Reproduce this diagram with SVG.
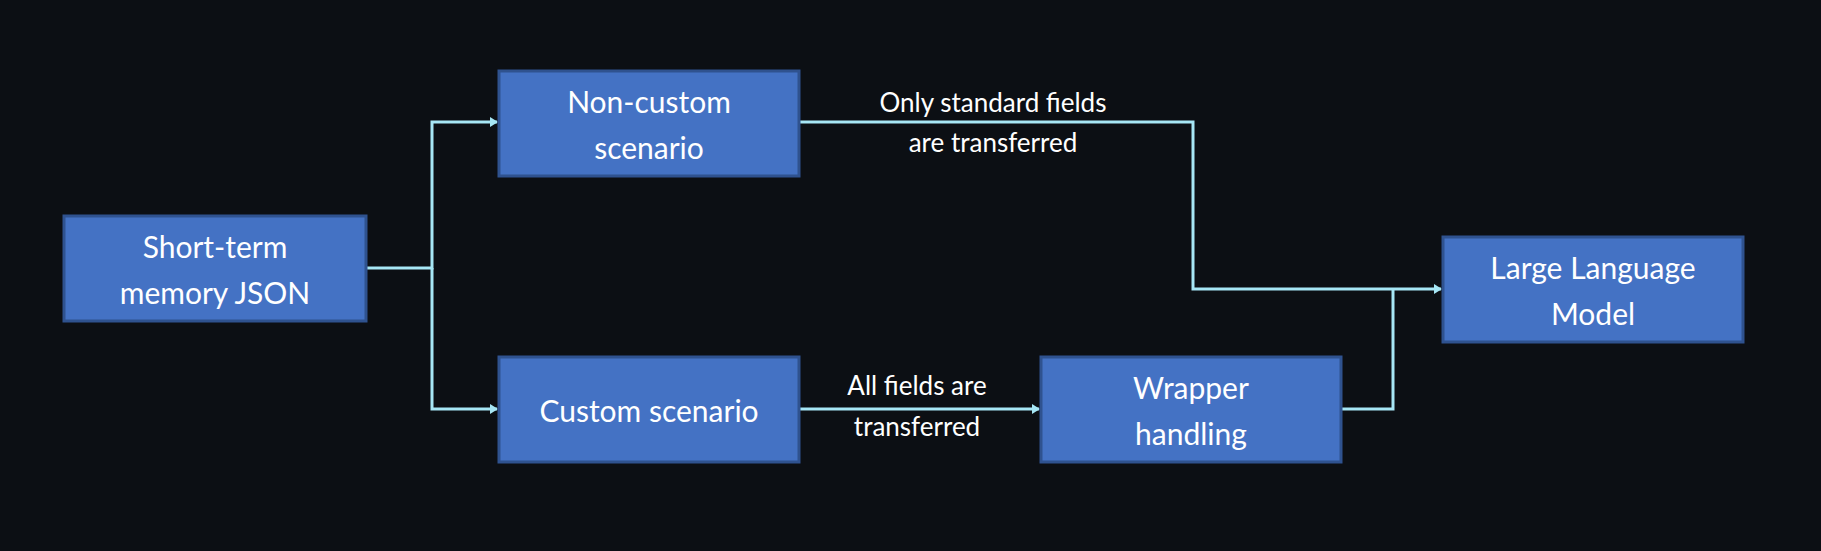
<svg xmlns="http://www.w3.org/2000/svg" width="1821" height="551" viewBox="0 0 1821 551">
<style>
.box{fill:#4472c4;stroke:#2f528f;stroke-width:3}
.t{font-family:Lato,"Open Sans",sans-serif;font-size:30px;fill:#fff;text-anchor:middle;dominant-baseline:central}
.l{font-family:Lato,"Open Sans",sans-serif;font-size:26px;fill:#fff;text-anchor:middle;dominant-baseline:central}
.c{fill:none;stroke:#a6e6f5;stroke-width:3}
</style>
<defs><marker id="a" markerWidth="8" markerHeight="10" refX="7" refY="5" orient="auto" markerUnits="userSpaceOnUse"><path d="M0,0 L8,5 L0,10 Z" fill="#a6e6f5"/></marker></defs>
<rect width="1821" height="551" fill="#0c0f14"/>
<g id="connectors">
<path class="c" d="M366,268 H432 V122 H497" marker-end="url(#a)"/>
<path class="c" d="M432,268 V409 H497" marker-end="url(#a)"/>
<path class="c" d="M799,122 H1193 V289 H1441" marker-end="url(#a)"/>
<path class="c" d="M1341,409 H1393 V289"/>
<path class="c" d="M799,409 H1039" marker-end="url(#a)"/>
<text class="l" x="993" y="102">Only standard fields</text>
<text class="l" x="993" y="142">are transferred</text>
<text class="l" x="917" y="385">All fields are</text>
<text class="l" x="917" y="426">transferred</text>
</g>
<g id="stm"><rect class="box" x="64" y="216" width="302" height="105"/><text class="t" x="215" y="246">Short-term</text><text class="t" x="215" y="292">memory JSON</text></g>
<g id="noncustom"><rect class="box" x="499" y="71" width="300" height="105"/><text class="t" x="649" y="101">Non-custom</text><text class="t" x="649" y="147">scenario</text></g>
<g id="custom"><rect class="box" x="499" y="357" width="300" height="105"/><text class="t" x="649" y="410">Custom scenario</text></g>
<g id="wrapper"><rect class="box" x="1041" y="357" width="300" height="105"/><text class="t" x="1191" y="387">Wrapper</text><text class="t" x="1191" y="433">handling</text></g>
<g id="llm"><rect class="box" x="1443" y="237" width="300" height="105"/><text class="t" x="1593" y="267">Large Language</text><text class="t" x="1593" y="313">Model</text></g>
</svg>
